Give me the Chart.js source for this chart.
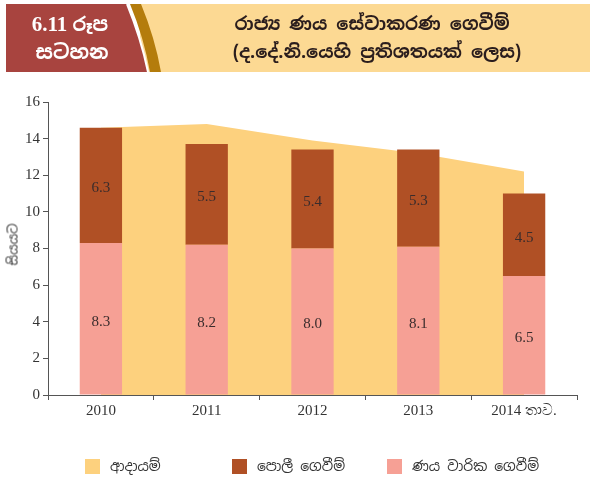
<!DOCTYPE html>
<html>
<head>
<meta charset="utf-8">
<script src="https://cdn.jsdelivr.net/npm/chart.js@4.4.1/dist/chart.umd.min.js"></script>
<style>
  html,body{margin:0;padding:0;background:#fff;width:596px;height:497px;overflow:hidden;}
  #wrap{position:absolute;left:0;top:0;width:596px;height:497px;}
  #hdr{position:absolute;left:0;top:0;}
  .sin{font-family:"Noto Sans Sinhala","Iskoola Pota","Noto Sans","DejaVu Sans",sans-serif;}
  #legend{position:absolute;left:0;top:455px;width:596px;height:22px;}
  .li{position:absolute;top:0;height:22px;display:flex;align-items:center;font-size:14px;color:#333;}
  .sw{width:15px;height:15px;margin-right:10px;display:inline-block;}
  #ylab{position:absolute;left:-7px;top:237px;transform:rotate(-90deg);transform-origin:center;font-size:13px;color:#333;width:40px;text-align:center;}
</style>
</head>
<body>
<div id="wrap">
  <canvas id="c" width="596" height="497"></canvas>
  <svg id="hdr" width="596" height="80">
    <rect x="140" y="4" width="450" height="68" fill="#fcd993"/>
    <path d="M130,4 L141,4 Q155,38 161,72 L150,72 Q144,38 130,4 Z" fill="#b47c0c"/>
    <path d="M6,4 L127,4 Q141,38 148,72 L6,72 Z" fill="#a8443f"/>
    <path d="M127,4 Q141,38 148,72" stroke="#fff" stroke-width="2" fill="none"/>
    <text x="70" y="31" text-anchor="middle" fill="#fff" font-size="21" font-weight="bold"><tspan font-family="Liberation Serif">6.11</tspan><tspan class="sin" font-size="19" dx="5">රූප</tspan></text>
    <text x="72" y="59" text-anchor="middle" fill="#fff" font-size="20" class="sin" font-weight="bold">සටහන</text>
    <text x="372" y="30" text-anchor="middle" fill="#2a1d1d" font-size="18" class="sin" font-weight="bold">රාජ්‍ය ණය සේවාකරණ ගෙවීම්</text>
    <text x="377" y="58" text-anchor="middle" fill="#2a1d1d" font-size="18" class="sin" font-weight="bold">(ද.දේ.නි.යෙහි ප්‍රතිශතයක් ලෙස)</text>
  </svg>
  <div id="ylab" class="sin">සියයට</div>
  <div id="legend" class="sin"></div>
</div>
<script>
const categories = ["2010", "2011", "2012", "2013", "2014 තාව."];
const revenue = [14.6, 14.8, 13.9, 13.2, 12.2];
const interestPayments = [6.3, 5.5, 5.4, 5.3, 4.5];
const amortizationPayments = [8.3, 8.2, 8.0, 8.1, 6.5];
const yTicks = [0, 2, 4, 6, 8, 10, 12, 14, 16];
const seriesNames = ["ආදායම්", "පොලී ගෙවීම්", "ණය වාරික ගෙවීම්"];
const colors = ["#fdd17e", "#b05025", "#f6a095"];

const labelPlugin = {
  id: 'barLabels',
  afterDatasetsDraw(chart) {
    const ctx = chart.ctx;
    ctx.save();
    ctx.font = '15px "Liberation Serif", serif';
    ctx.fillStyle = '#3a2c2c';
    ctx.textAlign = 'center';
    ctx.textBaseline = 'middle';
    chart.data.datasets.forEach((ds, i) => {
      if (ds.type !== 'bar') return;
      const meta = chart.getDatasetMeta(i);
      meta.data.forEach((el, j) => {
        const v = ds.data[j];
        ctx.fillText(v.toFixed(1), el.x, (el.y + el.base) / 2 + 3);
      });
    });
    ctx.restore();
  }
};

new Chart(document.getElementById('c'), {
  data: {
    labels: categories,
    datasets: [
      { type: 'bar', label: seriesNames[2], data: amortizationPayments, backgroundColor: colors[2], stack: 'debt', order: 1,
        barPercentage: 0.4, categoryPercentage: 1.0 },
      { type: 'bar', label: seriesNames[1], data: interestPayments, backgroundColor: colors[1], stack: 'debt', order: 1,
        barPercentage: 0.4, categoryPercentage: 1.0 },
      { type: 'line', label: seriesNames[0], data: revenue, backgroundColor: colors[0], borderColor: colors[0], borderWidth: 0,
        pointRadius: 0, fill: 'origin', tension: 0, stack: 'rev', order: 10 }
    ]
  },
  options: {
    responsive: false,
    animation: false,
    events: [],
    layout: { padding: { left: 0, top: 102, right: 19, bottom: 72 } },
    plugins: { legend: { display: false }, tooltip: { enabled: false } },
    scales: {
      x: {
        stacked: true,
        offset: true,
        grid: { offset: true, drawOnChartArea: false, tickLength: 5, color: '#555', tickColor: '#555' },
        border: { color: '#555', width: 1 },
        ticks: { color: '#333', font: { family: '"Liberation Serif", serif', size: 15 }, padding: 2,
                 callback: (v, i) => categories[i] },
        afterFit: s => { s.height = 30; }
      },
      y: {
        stacked: true,
        min: 0, max: 16,
        afterBuildTicks: s => { s.ticks = yTicks.map(v => ({ value: v })); },
        grid: { drawOnChartArea: false, tickLength: 5, color: '#555', tickColor: '#555' },
        border: { color: '#555', width: 1 },
        ticks: { color: '#333', font: { family: '"Liberation Serif", serif', size: 15 }, padding: 3 },
        afterFit: s => { s.width = 48; }
      }
    }
  },
  plugins: [labelPlugin]
});

const legendPos = [85, 232, 387];
const legendOrder = [0, 1, 2];
const lg = document.getElementById('legend');
legendOrder.forEach((k, i) => {
  const d = document.createElement('div');
  d.className = 'li';
  d.style.left = legendPos[i] + 'px';
  d.innerHTML = '<span class="sw" style="background:' + colors[k] + '"></span><span>' + seriesNames[k] + '</span>';
  lg.appendChild(d);
});
</script>
</body>
</html>
